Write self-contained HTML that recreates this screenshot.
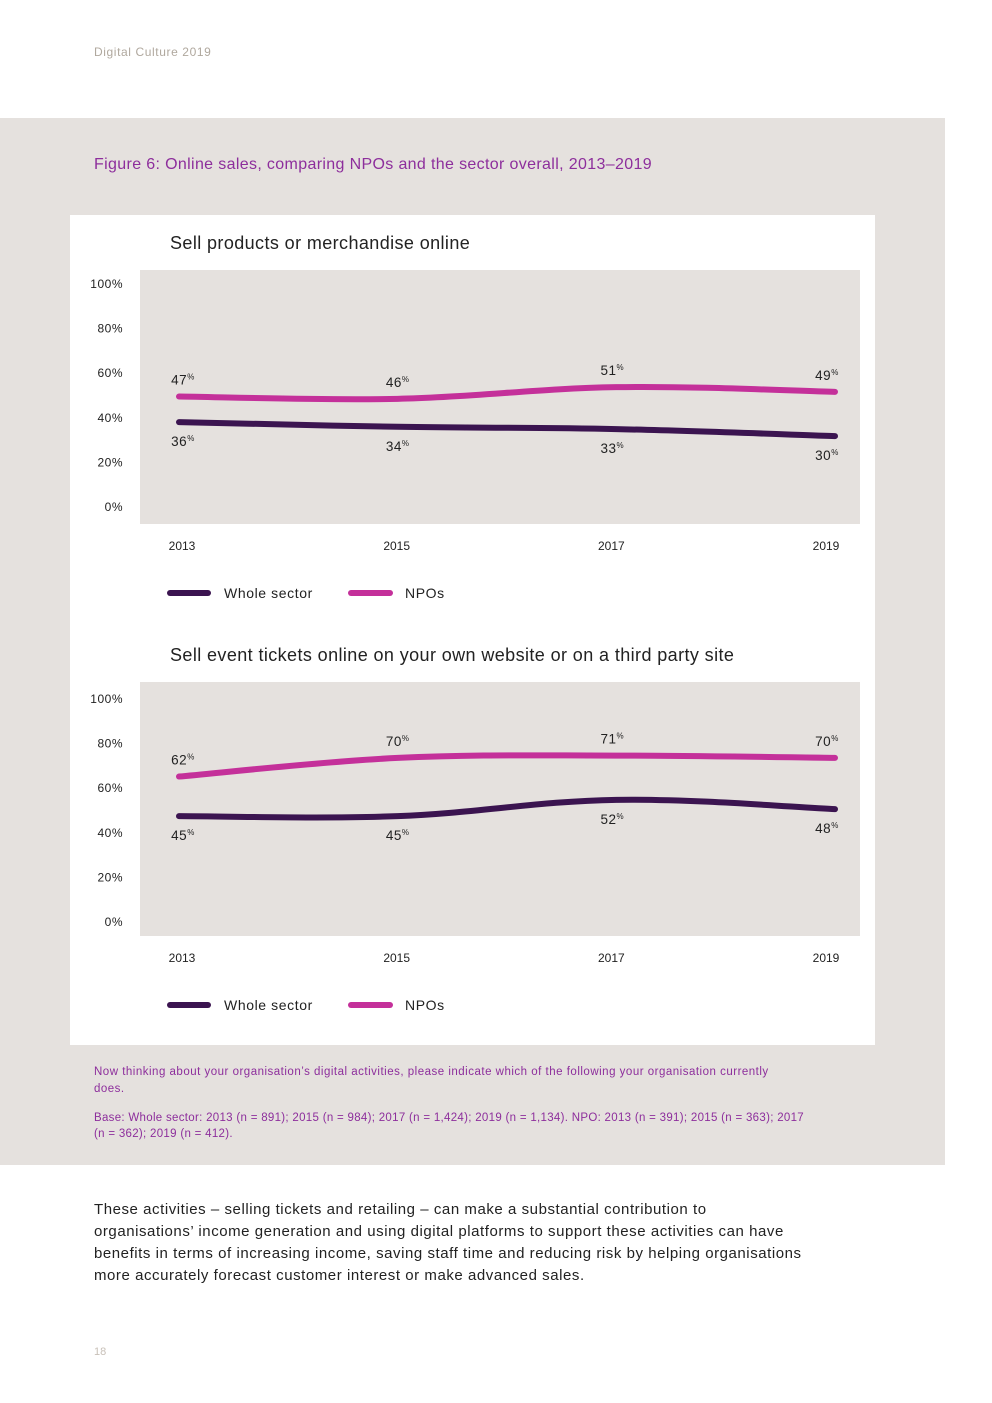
<!DOCTYPE html>
<html><head><meta charset="utf-8"><style>
body{margin:0;width:992px;height:1403px;background:#fff;font-family:"Liberation Sans",sans-serif;position:relative;overflow:hidden}
.abs{position:absolute}
</style></head><body>
<div class="abs" style="left:94px;top:45px;font-size:12px;color:#b0a89e;letter-spacing:0.6px">Digital Culture 2019</div>
<div class="abs" style="left:0;top:118px;width:945px;height:1047px;background:#e5e1de"></div>
<div class="abs" style="left:94px;top:156px;font-size:16px;color:#8d2e9c;letter-spacing:0.35px">Figure 6: Online sales, comparing NPOs and the sector overall, 2013–2019</div>
<div class="abs" style="left:70px;top:215px;width:805px;height:830px;background:#fff"></div>
<svg class="abs" id="svg" style="left:0;top:0" width="992" height="1403"></svg>
<div class="abs" style="left:94px;top:1064px;width:700px;font-size:11.5px;line-height:17px;color:#8d2e9c;letter-spacing:0.5px">Now thinking about your organisation’s digital activities, please indicate which of the following your organisation currently does.</div>
<div class="abs" style="left:94px;top:1110px;width:720px;font-size:11.5px;line-height:16px;color:#8d2e9c;letter-spacing:0.3px">Base: Whole sector: 2013 (n = 891); 2015 (n = 984); 2017 (n = 1,424); 2019 (n = 1,134). NPO: 2013 (n = 391); 2015 (n = 363); 2017 (n = 362); 2019 (n = 412).</div>
<div class="abs" style="left:94px;top:1199px;width:715px;font-size:15px;line-height:22px;color:#222;letter-spacing:0.55px">These activities – selling tickets and retailing – can make a substantial contribution to organisations’ income generation and using digital platforms to support these activities can have benefits in terms of increasing income, saving staff time and reducing risk by helping organisations more accurately forecast customer interest or make advanced sales.</div>
<div class="abs" style="left:94px;top:1346px;font-size:11px;color:#c8c0b8">18</div>
<script>
const years=["2013","2015","2017","2019"];
const yTicks=[0,20,40,60,80,100];
const c1Whole=[36,34,33,30];
const c1Npo=[47,46,51,49];
const c2Whole=[45,45,52,48];
const c2Npo=[62,70,71,70];
const titles=["Sell products or merchandise online","Sell event tickets online on your own website or on a third party site"];
const DARK="#3b1450",MAG="#c4309a";
const svg=document.getElementById('svg');
const NS="http://www.w3.org/2000/svg";
function mk(t,a,txt){const e=document.createElementNS(NS,t);for(const k in a)e.setAttribute(k,a[k]);if(txt!==undefined)e.textContent=txt;svg.appendChild(e);return e;}
function xPt(i){return 179+i*(835-179)/(years.length-1);}
function xLab(i){return 182+i*(826-182)/(years.length-1);}
function path(pts){let d="M"+pts[0][0]+","+pts[0][1];for(let i=0;i<pts.length-1;i++){const p0=pts[i-1]||pts[i],p1=pts[i],p2=pts[i+1],p3=pts[i+2]||p2;const t=0.18;d+=" C"+(p1[0]+(p2[0]-p0[0])*t)+","+(p1[1]+(p2[1]-p0[1])*t)+" "+(p2[0]-(p3[0]-p1[0])*t)+","+(p2[1]-(p3[1]-p1[1])*t)+" "+p2[0]+","+p2[1];}return d;}
function chart(k,top,baseOff,whole,npo){
  const base=top+baseOff, tickStep=44.6, scale=2.33;
  const y=v=>base-v*scale;
  let e=mk('text',{x:170,y:top-21,'font-size':18,fill:'#222','letter-spacing':0.4},titles[k]);
  
  e=mk('rect',{x:140,y:top,width:720,height:254,fill:'#e5e1de'});
  
  yTicks.forEach((t,i)=>{const el=mk('text',{x:123,y:base-i*tickStep+5,'font-size':12,fill:'#222','text-anchor':'end','letter-spacing':0.5},t+'%');
    });
  years.forEach((yr,i)=>{const el=mk('text',{x:xLab(i),y:top+280,'font-size':12,fill:'#222','text-anchor':'middle'},yr);
    });
  [[whole,DARK,'whole-sector-line',1],[npo,MAG,'npo-line',-1]].forEach(([vals,col,nm,dir])=>{
    const pts=vals.map((v,i)=>[xPt(i),y(v)]);
    const p=mk('path',{d:path(pts),stroke:col,'stroke-width':6,fill:'none','stroke-linecap':'round'});
    
    vals.forEach((v,i)=>{const t=mk('text',{x:xLab(i)+1,y:y(v)+(dir>0?24:-12),'font-size':13.5,fill:'#222','text-anchor':'middle','letter-spacing':0.5});
      
      t.textContent=v;const s=document.createElementNS(NS,'tspan');s.setAttribute('font-size',8);s.setAttribute('dy',-5);s.textContent='%';t.appendChild(s);});
  });
  const ly=top+323;
  e=mk('line',{x1:170,y1:ly,x2:208,y2:ly,stroke:DARK,'stroke-width':6,'stroke-linecap':'round'});
  
  e=mk('text',{x:224,y:ly+5,'font-size':14,fill:'#222','letter-spacing':0.6},'Whole sector');
  
  e=mk('line',{x1:351,y1:ly,x2:390,y2:ly,stroke:MAG,'stroke-width':6,'stroke-linecap':'round'});
  
  e=mk('text',{x:405,y:ly+5,'font-size':14,fill:'#222','letter-spacing':0.6},'NPOs');
  
}
chart(0,270,236,c1Whole,c1Npo);
chart(1,682,239,c2Whole,c2Npo);
</script>
</body></html>
